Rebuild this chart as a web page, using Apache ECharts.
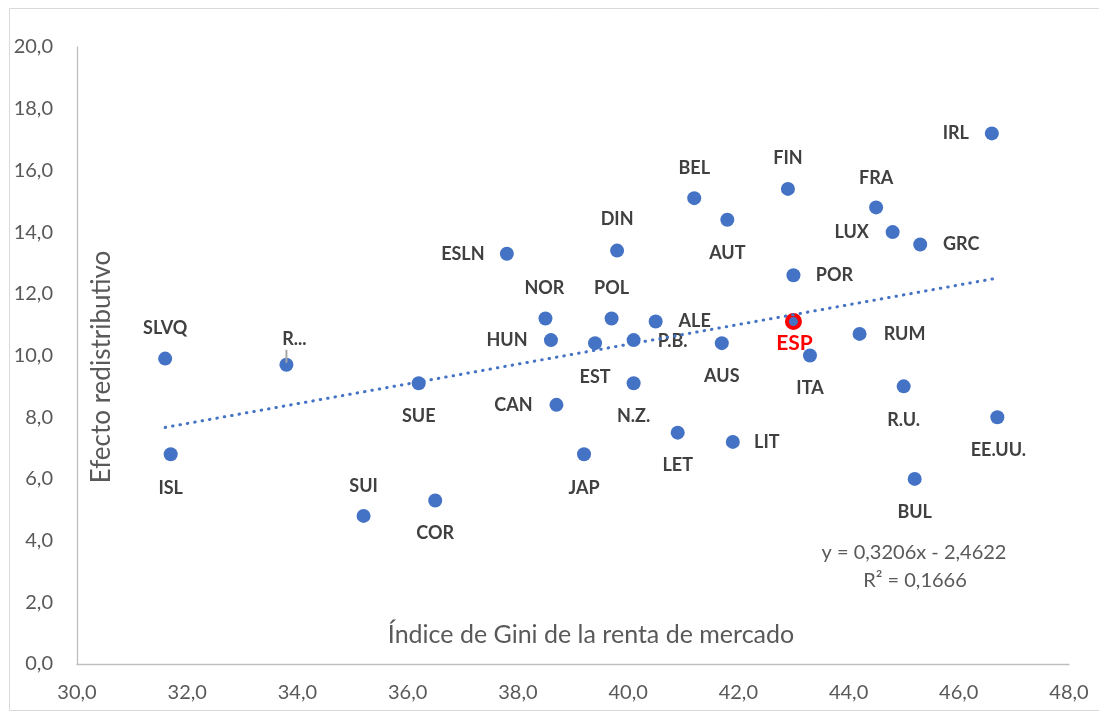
<!DOCTYPE html>
<html><head><meta charset="utf-8">
<script src="https://cdn.jsdelivr.net/npm/echarts@6/dist/echarts.min.js"></script>
<style>html,body{margin:0;padding:0;background:#fff}#c{width:1099px;height:711px}</style>
</head><body><div id="c"></div>
<script>
// ---- data ----
var countries = ['IRL','FIN','BEL','FRA','AUT','LUX','GRC','DIN','ESLN','POR','NOR','POL','ALE','ESP','HUN','EST','P.B.','N.Z.','AUS','ITA','RUM','R.U.','EE.UU.','BUL','LIT','LET','JAP','CAN','SUE','SUI','COR','R...','SLVQ','ISL'];
var giniMercado = [46.6,42.9,41.2,44.5,41.8,44.8,45.3,39.8,37.8,43.0,38.5,39.7,40.5,43.0,38.6,39.4,40.1,40.1,41.7,43.3,44.2,45.0,46.7,45.2,41.9,40.9,39.2,38.7,36.2,35.2,36.5,33.8,31.6,31.7];
var efectoRedistributivo = [17.2,15.4,15.1,14.8,14.4,14.0,13.6,13.4,13.3,12.6,11.2,11.2,11.1,11.1,10.5,10.4,10.5,9.1,10.4,10.0,10.7,9.0,8.0,6.0,7.2,7.5,6.8,8.4,9.1,4.8,5.3,9.7,9.9,6.8];
var trendSlope = 0.3206, trendIntercept = -2.4622, trendR2 = 0.1666;
var highlight = 'ESP';
var leaderLabel = 'R...';
var xTicks = {min:30, max:48, interval:2};
var yTicks = {min:0, max:20, interval:2};

// ---- label placement (style, pixel offsets from the marker) ----
var labelOffsets = {
  'IRL':[-36,0],'FIN':[0,-31],'BEL':[0,-30],'FRA':[0,-29],'AUT':[0,33],'LUX':[-41,0],'GRC':[41,0],
  'DIN':[0,-31],'ESLN':[-44,0],'POR':[41,0],'NOR':[-1,-30],'POL':[0,-30],'ALE':[39,0],'ESP':[1,22],
  'HUN':[-44,0],'EST':[0,34],'P.B.':[39,1],'N.Z.':[0,33],'AUS':[0,33],'ITA':[0,33],'RUM':[45,0],
  'R.U.':[0,34],'EE.UU.':[1,33],'BUL':[0,33],'LIT':[34,0],'LET':[0,33],'JAP':[0,34],'CAN':[-43,0],
  'SUE':[0,33],'SUI':[0,-30],'COR':[0,33],'R...':[8,-26],'SLVQ':[0,-30],'ISL':[0,34]
};

var FONT = 'Lato, "Open Sans", sans-serif';
var blue = '#4472C4';

var pts = countries.map(function(c,i){
  var item = {name:c, value:[giniMercado[i], efectoRedistributivo[i]],
    label:{offset: labelOffsets[c] || [0,-30]}};
  if (c === highlight) {
    item.symbolSize = 13;
    item.itemStyle = {color: blue, borderColor:'#FF0000', borderWidth:4};
    item.label = {offset: labelOffsets[c], color:'#FF0000', fontSize:21, fontWeight:'bold'};
    item.z = 5;
  }
  return item;
});

var xMinData = Math.min.apply(null, giniMercado), xMaxData = Math.max.apply(null, giniMercado);
var trend = [[xMinData, trendSlope*xMinData+trendIntercept],[xMaxData, trendSlope*xMaxData+trendIntercept]];

function fmt(v){ return v.toFixed(1).replace('.', ','); }
function fmt4(v){ return Math.abs(v).toFixed(4).replace('.', ','); }

var chart = echarts.init(document.getElementById('c'), null, {renderer:'canvas'});
var baseGraphics = [
  {type:'rect', id:'frame', left:7, top:6, shape:{width:1095, height:702}, style:{fill:'none', stroke:'#D9D9D9', lineWidth:1}, silent:true, z:-1},
  {type:'text', id:'xname', x:591, y:635, style:{text:'Índice de Gini de la renta de mercado', font:'25px '+FONT, fill:'#595959', align:'center', verticalAlign:'middle'}},
  {type:'text', id:'yname', x:102, y:367, rotation:Math.PI/2, style:{text:'Efecto redistributivo', font:'26px '+FONT, fill:'#595959', align:'center', verticalAlign:'middle'}},
  {type:'text', id:'eq1', x:914, y:553, style:{text:'y = '+fmt4(trendSlope)+'x - '+fmt4(trendIntercept), font:'20px '+FONT, fill:'#595959', align:'center', verticalAlign:'middle'}},
  {type:'text', id:'eq2', x:915, y:581, style:{text:'R² = '+fmt4(trendR2), font:'20px '+FONT, fill:'#595959', align:'center', verticalAlign:'middle'}}
];
chart.setOption({
  animation:false,
  backgroundColor:'#fff',
  grid:{left:77, right:30, top:47, bottom:47},
  xAxis:{type:'value', min:xTicks.min, max:xTicks.max, interval:xTicks.interval,
    axisLine:{show:true, onZero:false, lineStyle:{color:'#BFBFBF', width:1.3}},
    axisTick:{show:false}, splitLine:{show:false},
    axisLabel:{formatter:fmt, color:'#595959', fontSize:20, fontFamily:FONT, margin:19}},
  yAxis:{type:'value', min:yTicks.min, max:yTicks.max, interval:yTicks.interval,
    axisLine:{show:true, onZero:false, lineStyle:{color:'#BFBFBF', width:1.3}},
    axisTick:{show:false}, splitLine:{show:false},
    axisLabel:{formatter:fmt, color:'#595959', fontSize:20, fontFamily:FONT, margin:24}},
  graphic:baseGraphics,
  series:[
    {type:'scatter', data:pts, symbol:'circle', symbolSize:14, itemStyle:{color:blue, opacity:1}, z:3,
      label:{show:true, position:'inside', formatter:'{b}', color:'#404040', fontSize:18, fontWeight:'bold', fontFamily:FONT}},
    {type:'line', data:trend, symbol:'none', z:6, silent:true,
      lineStyle:{color:blue, width:3, type:[0.5,7], cap:'round'}}
  ]
});
// leader line for the callout label, anchored to the point through the chart's scales
var li = countries.indexOf(leaderLabel);
var p = chart.convertToPixel({gridIndex:0}, [giniMercado[li], efectoRedistributivo[li]]);
chart.setOption({graphic:[{type:'line', id:'leader', shape:{x1:p[0], y1:p[1]-15, x2:p[0], y2:p[1]-2}, style:{stroke:'#A6A6A6', lineWidth:2}, z:10, silent:true}]});
</script></body></html>
